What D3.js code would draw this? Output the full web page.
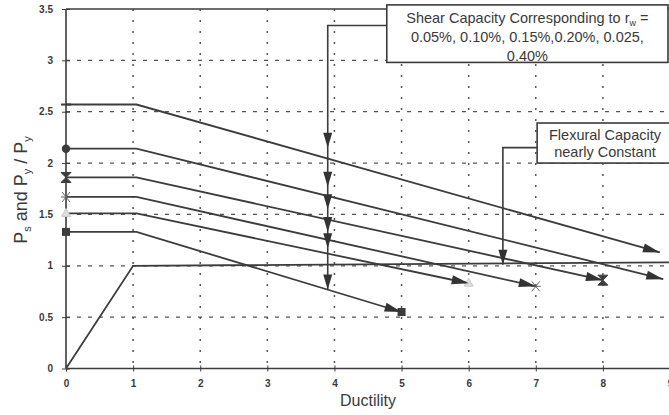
<!DOCTYPE html>
<html>
<head>
<meta charset="utf-8">
<script src="https://cdn.jsdelivr.net/npm/d3@7"></script>
<style>
  body { margin: 0; background: #fff; }
  text { font-family: "Liberation Sans", Arial, sans-serif; fill: #3a3a3a; }
</style>
</head>
<body>
<script>
// values
let xTicks = [0, 1, 2, 3, 4, 5, 6, 7, 8, 9];
let yTicks = [0, 0.5, 1, 1.5, 2, 2.5, 3, 3.5];
let yGrid = [0.5, 1, 1.5, 2, 2.5, 3];
let xGrid = [1, 2, 3, 4, 5, 6, 7, 8];

// shear capacity curves (rw = 0.40 ... 0.05 %, top to bottom)
let shearStart = [2.57, 2.14, 1.86, 1.67, 1.51, 1.33];
let shearBreak = 1.05;
let shearEndX = [8.85, 8.9, 8, 7, 6, 5];
let shearEndY = [1.13, 0.87, 0.86, 0.80, 0.83, 0.55];
let shearMarks = ["plus", "circle", "bowtie", "cross", "triangle", "square"];

// flexural capacity
let flexX = [0, 1, 9.6];
let flexY = [0, 1, 1.035];

// annotation arrows
let shearArrowX = 3.9;
let shearArrowTips = [2.15, 1.77, 1.55, 1.33, 1.17, 0.77];
let flexArrowX = 6.51;
let flexArrowTip = 1.01;

let width = 669,
    height = 415;

let x = d3.scaleLinear().domain([0, 9]).range([66, 670]);
let y = d3.scaleLinear().domain([0, 3.5]).range([368.5, 9]);

let svg = d3.select("body").append("svg")
    .attr("width", width)
    .attr("height", height);

let ink = "#3c3c3c";

// grid
svg.selectAll(".hgrid")
    .data(yGrid)
    .enter().append("line")
    .attr("x1", x(0)).attr("x2", width)
    .attr("y1", d => y(d)).attr("y2", d => y(d))
    .attr("stroke", "#555")
    .attr("stroke-width", 1.3)
    .attr("stroke-dasharray", "4,7");

svg.selectAll(".vgrid")
    .data(xGrid)
    .enter().append("line")
    .attr("x1", d => x(d)).attr("x2", d => x(d))
    .attr("y1", y(3.5)).attr("y2", y(0))
    .attr("stroke", "#555")
    .attr("stroke-width", 1.5)
    .attr("stroke-dasharray", "2,9");

// top frame
svg.append("line")
    .attr("x1", x(0)).attr("x2", width)
    .attr("y1", y(3.5)).attr("y2", y(3.5))
    .attr("stroke", ink).attr("stroke-width", 1.5);

// axes
let xAxis = d3.axisBottom(x).tickValues(xTicks).tickSize(4).tickFormat(d3.format("d"));
let gx = svg.append("g")
    .attr("transform", "translate(0," + y(0) + ")")
    .call(xAxis);
gx.select(".domain").attr("d", "M" + x(0) + ",0H" + width).attr("stroke", ink).attr("stroke-width", 1.6);
gx.selectAll(".tick line").attr("y1", -3).attr("y2", 3).attr("stroke", ink);
gx.selectAll(".tick text")
    .attr("y", 11)
    .style("font-size", "10px").style("font-weight", "bold").attr("fill", "#444");

let yAxis = d3.axisLeft(y).tickValues(yTicks).tickSize(4).tickFormat(d => d);
let gy = svg.append("g")
    .attr("transform", "translate(" + x(0) + ",0)")
    .call(yAxis);
gy.select(".domain").attr("d", "M0," + y(0) + "V" + y(3.5)).attr("stroke", ink).attr("stroke-width", 1.6);
gy.selectAll(".tick line").attr("x1", -4).attr("x2", 4).attr("stroke", ink);
gy.selectAll(".tick text")
    .attr("x", -13)
    .style("font-size", "10px").style("font-weight", "bold").attr("fill", "#444");

// axis titles
svg.append("text")
    .attr("x", 368).attr("y", 406)
    .attr("text-anchor", "middle")
    .style("font-size", "16px")
    .text("Ductility");

let yt = svg.append("text")
    .attr("transform", "translate(27,190) rotate(-90)")
    .attr("text-anchor", "middle")
    .style("font-size", "18px");
yt.append("tspan").text("P");
yt.append("tspan").attr("dy", 4).style("font-size", "11px").text("s");
yt.append("tspan").attr("dy", -4).text(" and P");
yt.append("tspan").attr("dy", 4).style("font-size", "11px").text("y");
yt.append("tspan").attr("dy", -4).text(" / P");
yt.append("tspan").attr("dy", 4).style("font-size", "11px").text("y");

let line = d3.line().x(d => x(d[0])).y(d => y(d[1]));

function arrowHead(x0, y0, x1, y1, len, half) {
    // tip at (x1, y1), screen coords
    let a = Math.atan2(y1 - y0, x1 - x0);
    let bx = x1 - len * Math.cos(a), by = y1 - len * Math.sin(a);
    let px = -Math.sin(a) * half, py = Math.cos(a) * half;
    return "M" + x1 + "," + y1 + "L" + (bx + px) + "," + (by + py) + "L" + (bx - px) + "," + (by - py) + "Z";
}

// flexural capacity line
svg.append("path")
    .attr("d", line(flexX.map((d, i) => [d, flexY[i]])))
    .attr("fill", "none")
    .attr("stroke", ink)
    .attr("stroke-width", 1.8);

// shear curves
let curves = shearStart.map((s, i) => ({
    pts: [[0, s], [shearBreak, s], [shearEndX[i], shearEndY[i]]],
    mark: shearMarks[i]
}));

svg.selectAll(".shear")
    .data(curves)
    .enter().append("path")
    .attr("d", d => line(d.pts))
    .attr("fill", "none")
    .attr("stroke", ink)
    .attr("stroke-width", 1.8);

function drawMark(g, type, cx, cy) {
    if (type === "plus") {
        g.append("line").attr("x1", cx - 5).attr("x2", cx + 5).attr("y1", cy).attr("y2", cy)
            .attr("stroke", ink).attr("stroke-width", 2);
    } else if (type === "circle") {
        g.append("circle").attr("cx", cx).attr("cy", cy).attr("r", 4.2).attr("fill", ink);
    } else if (type === "bowtie") {
        g.append("path")
            .attr("d", "M" + (cx - 5) + "," + (cy - 5) + "L" + (cx + 5) + "," + (cy - 5) + "L" + (cx - 5) + "," + (cy + 5) + "L" + (cx + 5) + "," + (cy + 5) + "Z")
            .attr("fill", ink).attr("stroke", ink).attr("stroke-width", 1);
    } else if (type === "cross") {
        g.append("path")
            .attr("d", "M" + (cx - 4) + "," + (cy - 5) + "L" + (cx + 4) + "," + (cy + 5) + "M" + (cx + 4) + "," + (cy - 5) + "L" + (cx - 4) + "," + (cy + 5) + "M" + (cx - 5) + "," + cy + "L" + (cx + 5) + "," + cy)
            .attr("stroke", "#666").attr("stroke-width", 1);
    } else if (type === "triangle") {
        g.append("path")
            .attr("d", "M" + cx + "," + (cy - 5) + "L" + (cx + 4.5) + "," + (cy + 3) + "L" + (cx - 4.5) + "," + (cy + 3) + "Z")
            .attr("fill", "#ddd").attr("stroke", "#ccc");
    } else if (type === "square") {
        g.append("rect").attr("x", cx - 4).attr("y", cy - 4).attr("width", 8).attr("height", 8).attr("fill", ink);
    }
}

let marks = svg.append("g");
curves.forEach(c => {
    drawMark(marks, c.mark, x(c.pts[0][0]), y(c.pts[0][1]));
    // end markers of the two top curves sit under their arrowheads
    if (c.mark !== "plus" && c.mark !== "circle") {
        drawMark(marks, c.mark, x(c.pts[2][0]), y(c.pts[2][1]));
    }
});

// arrowheads at curve ends
svg.selectAll(".endArrow")
    .data(curves)
    .enter().append("path")
    .attr("d", d => arrowHead(x(d.pts[1][0]), y(d.pts[1][1]), x(d.pts[2][0]), y(d.pts[2][1]), 17, 4.5))
    .attr("fill", "#333");

// shear annotation box
let boxLeft = 4.78, boxTop = 3.54, boxBottom = 2.98, boxRight = 8.97;
svg.append("rect")
    .attr("x", x(boxLeft)).attr("y", y(boxTop))
    .attr("width", x(boxRight) - x(boxLeft)).attr("height", y(boxBottom) - y(boxTop))
    .attr("fill", "#fff").attr("stroke", ink).attr("stroke-width", 1.6);

let boxText = [["Shear Capacity Corresponding to r", "w", " ="],
               ["0.05%, 0.10%, 0.15%,0.20%, 0.025,"],
               ["0.40%"]];
boxText.forEach((parts, i) => {
    let t = svg.append("text")
        .attr("x", (x(boxLeft) + x(boxRight)) / 2)
        .attr("y", y(boxTop) + 18 + i * 19)
        .attr("text-anchor", "middle")
        .style("font-size", "14.5px");
    t.append("tspan").text(parts[0]);
    if (parts.length > 1) {
        t.append("tspan").attr("dy", 3).style("font-size", "9px").text(parts[1]);
        t.append("tspan").attr("dy", -3).text(parts[2]);
    }
});

// shear leader and vertical arrow
let leaderY = 3.34;
svg.append("path")
    .attr("d", "M" + x(boxLeft) + "," + y(leaderY) + "H" + x(shearArrowX) + "V" + y(d3.min(shearArrowTips)))
    .attr("fill", "none").attr("stroke", ink).attr("stroke-width", 1.6);
svg.selectAll(".vArrow")
    .data(shearArrowTips)
    .enter().append("path")
    .attr("d", d => arrowHead(x(shearArrowX), y(d) - 20, x(shearArrowX), y(d), 15, 4.5))
    .attr("fill", "#333");

// flexural annotation box
let fLeft = 7.02, fTop = 2.39, fBottom = 2.0, fRight = 9.2;
svg.append("rect")
    .attr("x", x(fLeft)).attr("y", y(fTop))
    .attr("width", x(fRight) - x(fLeft)).attr("height", y(fBottom) - y(fTop))
    .attr("fill", "#fff").attr("stroke", ink).attr("stroke-width", 1.6);
["Flexural Capacity", "nearly Constant"].forEach((s, i) => {
    svg.append("text")
        .attr("x", 605).attr("y", y(fTop) + 17 + i * 17)
        .attr("text-anchor", "middle")
        .style("font-size", "14.5px")
        .text(s);
});

let fLeaderY = 2.15;
svg.append("path")
    .attr("d", "M" + x(fLeft) + "," + y(fLeaderY) + "H" + x(flexArrowX) + "V" + y(flexArrowTip))
    .attr("fill", "none").attr("stroke", ink).attr("stroke-width", 1.6);
svg.append("path")
    .attr("d", arrowHead(x(flexArrowX), y(flexArrowTip) - 20, x(flexArrowX), y(flexArrowTip), 15, 4.5))
    .attr("fill", "#333");
</script>
</body>
</html>
